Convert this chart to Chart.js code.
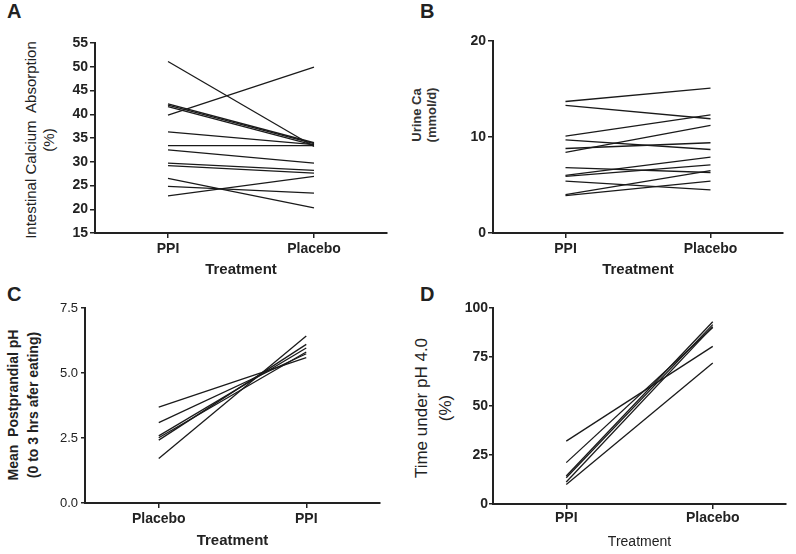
<!DOCTYPE html>
<html>
<head>
<meta charset="utf-8">
<script src="https://cdn.jsdelivr.net/npm/chart.js@4/dist/chart.umd.min.js"></script>
<style>
body { margin: 0; background: #fff; }
#page { position: relative; width: 796px; height: 554px; font-family: "Liberation Sans", Arial, sans-serif; color: #222; }
canvas { position: absolute; }
.letter { position: absolute; font-size: 20px; font-weight: bold; line-height: 20px; }
.ytitle { position: absolute; white-space: nowrap; text-align: center; transform: translate(-50%, -50%) rotate(-90deg); }
</style>
</head>
<body>
<div id="page">
	<div class="letter" style="left:7px; top:1px">A</div>
	<div class="letter" style="left:420px; top:1px">B</div>
	<div class="letter" style="left:7px; top:284px">C</div>
	<div class="letter" style="left:420px; top:284px">D</div>

	<div class="ytitle" style="left:40px; top:140px; font-size:15px; line-height:18px">Intestinal Calcium&nbsp; Absorption<br>(%)</div>
	<div class="ytitle" style="left:424px; top:115px; font-size:13px; line-height:15px; font-weight:bold; color:#333">Urine Ca<br>(mmol/d)</div>
	<div class="ytitle" style="left:23px; top:405px; font-size:14px; line-height:20px; font-weight:bold">Mean&nbsp; Postprandial pH<br>(0 to 3 hrs afer eating)</div>
	<div class="ytitle" style="left:434px; top:408px; font-size:17px; line-height:24px">Time under pH 4.0<br>(%)</div>

	<canvas id="chartA" width="398" height="285" style="left:0; top:0"></canvas>
	<canvas id="chartB" width="398" height="285" style="left:398px; top:0"></canvas>
	<canvas id="chartC" width="398" height="274" style="left:0; top:280px"></canvas>
	<canvas id="chartD" width="398" height="274" style="left:398px; top:280px"></canvas>
</div>
<script>
// panel A - intestinal calcium absorption (%)
const catsA = ['PPI', 'Placebo']
const absorptionPPI = [51.1, 42.2, 41.9, 41.6, 39.8, 36.3, 33.4, 32.5, 29.7, 29.2, 26.5, 24.8, 22.8]
const absorptionPlacebo = [33.2, 34.0, 33.8, 33.5, 49.9, 33.6, 33.4, 29.7, 28.2, 27.6, 20.3, 23.4, 26.9]
const ticksA = [15, 20, 25, 30, 35, 40, 45, 50, 55]

// panel B - urine Ca (mmol/d)
const catsB = ['PPI', 'Placebo']
const urinePPI = [13.7, 13.3, 10.1, 9.7, 8.8, 8.4, 6.8, 6.0, 5.9, 5.4, 4.0, 3.9]
const urinePlacebo = [15.1, 11.9, 12.3, 8.7, 9.4, 11.2, 6.3, 7.9, 7.1, 4.5, 6.5, 5.4]
const ticksB = [0, 10, 20]

// panel C - mean postprandial pH
const catsC = ['Placebo', 'PPI']
const phPlacebo = [3.69, 3.09, 2.58, 2.51, 2.42, 1.71]
const phPPI = [5.59, 5.74, 5.96, 5.81, 6.10, 6.42]
const ticksC = ['0.0', '2.5', '5.0', '7.5']

// panel D - time under pH 4.0 (%)
const catsD = ['PPI', 'Placebo']
const timePPI = [32.1, 21.1, 14.3, 13.4, 11.2, 9.9]
const timePlacebo = [80.4, 90.0, 93.0, 91.5, 90.5, 72.0]
const ticksD = [0, 25, 50, 75, 100]

Chart.defaults.font.family = '"Liberation Sans", Arial, sans-serif'
Chart.defaults.color = '#222'

function pairs(first, second) {
	return first.map((v, i) => ({
		data: [v, second[i]],
		borderColor: '#1a1a1a',
		borderWidth: 1.3,
		pointRadius: 0,
		fill: false,
		tension: 0
	}))
}

function makePanel(id, cats, first, second, opts) {
	const tickVals = opts.ticks.map(Number)
	new Chart(document.getElementById(id), {
		type: 'line',
		data: { labels: cats, datasets: pairs(first, second) },
		options: {
			responsive: false,
			animation: false,
			layout: { padding: opts.padding },
			plugins: { legend: { display: false }, tooltip: { enabled: false } },
			scales: {
				x: {
					offset: true,
					grid: { offset: false, drawOnChartArea: false, tickLength: 5, color: '#222', lineWidth: 1.5 },
					border: { color: '#222', width: 2 },
					ticks: { padding: opts.xPad, font: { size: 14, weight: 'bold' }, color: '#222' },
					title: {
						display: true,
						text: 'Treatment',
						padding: 0,
						color: '#222',
						font: { size: opts.xTitleSize, weight: opts.xTitleWeight }
					},
					afterFit: (s) => { s.height = opts.xHeight }
				},
				y: {
					min: tickVals[0],
					max: tickVals[tickVals.length - 1],
					afterBuildTicks: (s) => { s.ticks = tickVals.map(v => ({ value: v })) },
					grid: { drawOnChartArea: false, tickLength: opts.yTick, color: '#222', lineWidth: 1.5 },
					border: { color: '#222', width: 2 },
					ticks: {
						padding: opts.yPad,
						color: '#222',
						font: { size: opts.yFontSize, weight: opts.yWeight },
						callback: (v) => opts.ticks[tickVals.indexOf(v)]
					},
					afterFit: (s) => { s.width = opts.yWidth }
				}
			}
		}
	})
}

makePanel('chartA', catsA, absorptionPPI, absorptionPlacebo, {
	ticks: ticksA, padding: { left: 0, right: 11, top: 43, bottom: 6 },
	yWidth: 95, xHeight: 46, xPad: 3, yTick: 5, yPad: 2, yFontSize: 14, yWeight: 'bold',
	xTitleSize: 15, xTitleWeight: 'bold'
})
makePanel('chartB', catsB, urinePPI, urinePlacebo, {
	ticks: ticksB, padding: { left: 0, right: 13, top: 41, bottom: 6 },
	yWidth: 95, xHeight: 46, xPad: 3, yTick: 5, yPad: 2, yFontSize: 14, yWeight: 'bold',
	xTitleSize: 15, xTitleWeight: 'bold'
})
makePanel('chartC', catsC, phPlacebo, phPPI, {
	ticks: ticksC, padding: { left: 0, right: 18, top: 28, bottom: 4 },
	yWidth: 85, xHeight: 47, xPad: 3, yTick: 4, yPad: 3, yFontSize: 13, yWeight: 'normal',
	xTitleSize: 15, xTitleWeight: 'bold'
})
makePanel('chartD', catsD, timePPI, timePlacebo, {
	ticks: ticksD, padding: { left: 0, right: 10, top: 28, bottom: 3 },
	yWidth: 95, xHeight: 47, xPad: 1, yTick: 4, yPad: 1, yFontSize: 14, yWeight: 'bold',
	xTitleSize: 14, xTitleWeight: 'normal'
})
</script>
</body>
</html>
